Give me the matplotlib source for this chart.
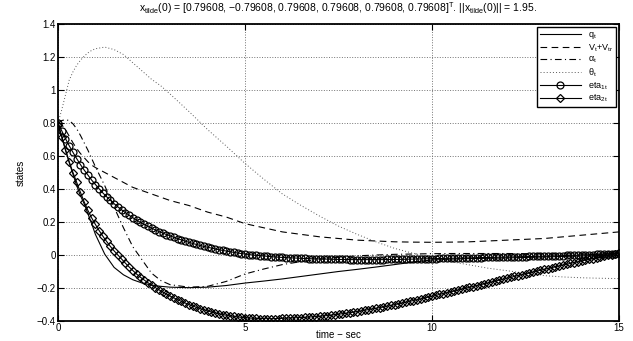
import numpy as np
import matplotlib
matplotlib.use("Agg")
import matplotlib.pyplot as plt

plt.rcParams['font.family'] = ['Liberation Sans', 'DejaVu Sans']
plt.rcParams['mathtext.default'] = 'regular'

# fine sample grid (0.1 s) used by the marked curves
t_fine = np.linspace(0, 15, 151)

eta1 = [0.800,
        0.752, 0.705, 0.662, 0.622, 0.584, 0.548, 0.515, 0.484, 0.454, 0.427,
        0.401, 0.376, 0.353, 0.332, 0.311, 0.292, 0.274, 0.257, 0.241, 0.226,
        0.212, 0.198, 0.186, 0.174, 0.163, 0.152, 0.142, 0.133, 0.124, 0.116,
        0.107, 0.099, 0.091, 0.084, 0.077, 0.070, 0.064, 0.058, 0.052, 0.047,
        0.042, 0.037, 0.032, 0.028, 0.024, 0.020, 0.016, 0.012, 0.009, 0.006,
        0.003, 0.000, -0.002, -0.004, -0.006, -0.008, -0.010, -0.012, -0.013, -0.015,
        -0.016, -0.017, -0.018, -0.019, -0.020, -0.021, -0.022, -0.023, -0.023, -0.024,
        -0.025, -0.025, -0.026, -0.026, -0.027, -0.027, -0.027, -0.028, -0.028, -0.028,
        -0.028, -0.028, -0.028, -0.028, -0.028, -0.028, -0.028, -0.027, -0.027, -0.027,
        -0.027, -0.026, -0.026, -0.025, -0.025, -0.024, -0.024, -0.023, -0.023, -0.022,
        -0.022, -0.021, -0.021, -0.020, -0.020, -0.019, -0.019, -0.018, -0.018, -0.017,
        -0.017, -0.016, -0.016, -0.015, -0.015, -0.014, -0.014, -0.013, -0.013, -0.012,
        -0.012, -0.011, -0.011, -0.010, -0.010, -0.009, -0.009, -0.008, -0.008, -0.007,
        -0.007, -0.006, -0.005, -0.005, -0.004, -0.003, -0.002, -0.002, -0.001, 0.000,
        0.001, 0.002, 0.003, 0.004, 0.005, 0.006, 0.007, 0.008, 0.009, 0.010]

eta2 = [0.790,
        0.715, 0.635, 0.565, 0.500, 0.440, 0.380, 0.322, 0.270, 0.225, 0.185,
        0.148, 0.114, 0.082, 0.052, 0.025, 0.000, -0.025, -0.049, -0.072, -0.094,
        -0.115, -0.134, -0.151, -0.167, -0.182, -0.197, -0.211, -0.224, -0.237, -0.249,
        -0.260, -0.271, -0.281, -0.291, -0.300, -0.309, -0.317, -0.325, -0.332, -0.339,
        -0.345, -0.351, -0.356, -0.361, -0.365, -0.369, -0.372, -0.375, -0.378, -0.380,
        -0.382, -0.383, -0.384, -0.385, -0.386, -0.386, -0.386, -0.386, -0.385, -0.384,
        -0.383, -0.382, -0.381, -0.380, -0.379, -0.378, -0.376, -0.375, -0.373, -0.371,
        -0.369, -0.367, -0.364, -0.362, -0.359, -0.356, -0.353, -0.350, -0.346, -0.343,
        -0.339, -0.335, -0.331, -0.327, -0.323, -0.319, -0.315, -0.310, -0.306, -0.301,
        -0.296, -0.291, -0.286, -0.281, -0.276, -0.271, -0.266, -0.261, -0.255, -0.250,
        -0.245, -0.239, -0.234, -0.228, -0.223, -0.218, -0.212, -0.207, -0.201, -0.196,
        -0.191, -0.185, -0.180, -0.174, -0.169, -0.163, -0.158, -0.152, -0.147, -0.141,
        -0.136, -0.130, -0.125, -0.119, -0.114, -0.109, -0.103, -0.098, -0.092, -0.087,
        -0.082, -0.077, -0.071, -0.066, -0.061, -0.056, -0.051, -0.046, -0.041, -0.036,
        -0.031, -0.026, -0.022, -0.017, -0.012, -0.008, -0.003, 0.001, 0.006, 0.010]

# coarser grid for the plain lines
t_coarse = [0.0, 0.1, 0.2, 0.3, 0.4, 0.5, 0.6, 0.7, 0.8, 0.9, 1.0,
            1.25, 1.5, 1.75, 2.0, 2.25, 2.5, 2.75, 3.0,
            3.5, 4.0, 4.5, 5.0, 5.5, 6.0, 6.5, 7.0, 7.5, 8.0, 8.5, 9.0, 9.5,
            10.0, 10.5, 11.0, 11.5, 12.0, 12.5, 13.0, 13.5, 14.0, 14.5, 15.0]

q_t = [0.80, 0.72, 0.64, 0.56, 0.49, 0.42, 0.36, 0.31, 0.25, 0.19, 0.125,
       0.005, -0.075, -0.12, -0.15, -0.17, -0.182, -0.19, -0.195,
       -0.198, -0.195, -0.185, -0.17, -0.158, -0.145, -0.13, -0.115, -0.10, -0.087,
       -0.073, -0.058, -0.043, -0.03, -0.025, -0.022, -0.02, -0.018, -0.015,
       -0.012, -0.009, -0.006, -0.003, 0.0]

v_t = [0.80, 0.79, 0.76, 0.72, 0.68, 0.645, 0.615, 0.59, 0.565, 0.545, 0.53,
       0.50, 0.47, 0.44, 0.41, 0.39, 0.37, 0.35, 0.33,
       0.30, 0.26, 0.23, 0.19, 0.165, 0.14, 0.125, 0.11, 0.10, 0.09,
       0.085, 0.08, 0.078, 0.077, 0.078, 0.08, 0.085, 0.09, 0.095,
       0.10, 0.11, 0.12, 0.13, 0.14]

alpha_t = [0.80, 0.815, 0.82, 0.815, 0.795, 0.765, 0.725, 0.68, 0.635, 0.585, 0.535,
           0.42, 0.29, 0.165, 0.05, -0.03, -0.11, -0.155, -0.18,
           -0.195, -0.19, -0.16, -0.115, -0.085, -0.058, -0.04, -0.025, -0.013, -0.005,
           0.0, 0.004, 0.006, 0.008, 0.009, 0.009, 0.009, 0.009, 0.008,
           0.008, 0.007, 0.006, 0.006, 0.005]

theta_t = [0.80, 0.88, 0.97, 1.06, 1.11, 1.15, 1.18, 1.205, 1.225, 1.24, 1.25,
           1.26, 1.245, 1.215, 1.165, 1.115, 1.065, 1.025, 0.975,
           0.87, 0.76, 0.66, 0.555, 0.46, 0.37, 0.30, 0.235, 0.175, 0.125,
           0.08, 0.04, 0.01, -0.015, -0.04, -0.06, -0.08, -0.095, -0.11,
           -0.125, -0.133, -0.138, -0.141, -0.143]

y_ticks = [-0.4, -0.2, 0, 0.2, 0.4, 0.6, 0.8, 1.0, 1.2, 1.4]
y_ticklabels = ['\u22120.4', '\u22120.2', '0', '0.2', '0.4', '0.6', '0.8', '1', '1.2', '1.4']
x_ticks = [0, 5, 10, 15]

fig = plt.figure(figsize=(6.33, 3.41), dpi=100)
ax = fig.add_axes([58 / 633, 20 / 341, 561 / 633, 297 / 341])

ax.plot(t_coarse, q_t, 'k-', lw=0.8, label='$q_t$')
ax.plot(t_coarse, v_t, 'k--', lw=0.8, dashes=(6, 4), label='$V_t$+$V_{tr}$')
ax.plot(t_coarse, alpha_t, 'k-.', lw=0.8, dashes=(6, 3, 1, 3), label=r'$\alpha_t$')
ax.plot(t_coarse, theta_t, color='0.35', lw=0.7, dashes=(1, 2.2), label=r'$\theta_t$')
ax.plot(t_fine, eta1, 'k-', lw=0.8, marker='o', ms=5, mfc='none', mew=0.9,
        label='eta$_{1t}$')
ax.plot(t_fine, eta2, 'k-', lw=0.8, marker='D', ms=4, mfc='none', mew=0.9,
        label='eta$_{2t}$')

ax.set_xlim(0, 15)
ax.set_ylim(-0.4, 1.4)
ax.set_xticks(x_ticks)
ax.set_yticks(y_ticks)
ax.set_yticklabels(y_ticklabels)
ax.tick_params(direction='in', top=True, right=True, labelsize=7, length=4, width=0.8, pad=1.5)
ax.grid(True, linestyle=':', color='0.45', linewidth=0.7)
for s in ax.spines.values():
    s.set_linewidth(1.3)

ax.set_xlabel('time \u2212 sec', fontsize=7, labelpad=-2)
ax.set_ylabel('states', fontsize=7, labelpad=8)
ax.set_title('x$_{tilde}$(0) = [0.79608, \u22120.79608, 0.79608, 0.79608, 0.79608, 0.79608]$^T$. '
             '||x$_{tilde}$(0)|| = 1.95.', fontsize=7.5, pad=9)

leg = ax.legend(loc='upper right', fontsize=6.5, numpoints=1, handlelength=4.6,
                fancybox=False, framealpha=1, edgecolor='k', borderaxespad=0.35,
                labelspacing=0.12, borderpad=0.35, handletextpad=0.7)
leg.get_frame().set_linewidth(1.0)

fig.savefig('out.png', dpi=100)
